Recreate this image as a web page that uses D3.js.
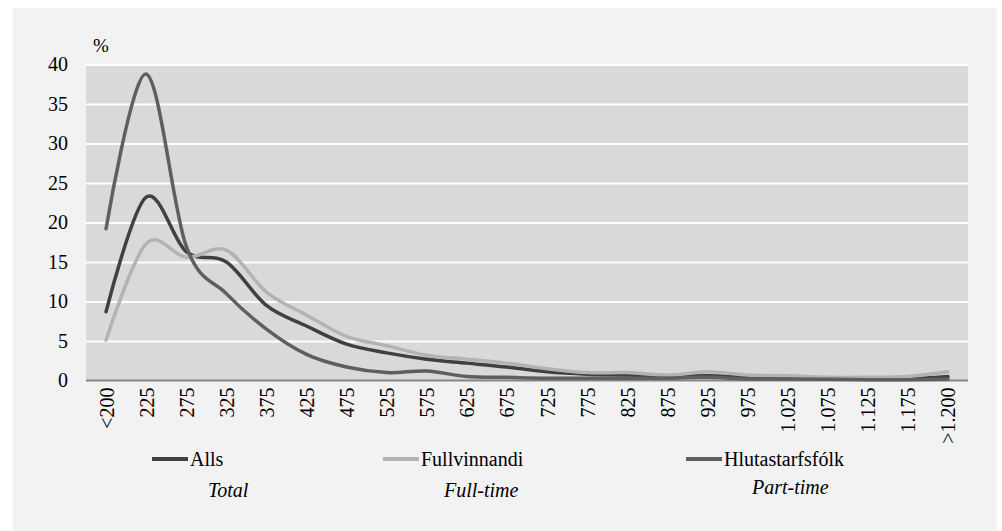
<!DOCTYPE html>
<html><head><meta charset="utf-8">
<script src="https://cdn.jsdelivr.net/npm/d3@7"></script>
<style>body{margin:0;background:#fff}svg{display:block}svg text{font-family:"Liberation Serif","Times New Roman",serif;fill:#000}</style>
</head><body><svg id="c" width="1002" height="531"></svg>
<script>
const categories = ["<200","225","275","325","375","425","475","525","575","625","675","725","775","825","875","925","975","1.025","1.075","1.125","1.175",">1.200"];
const alls  = [8.7, 23.2, 16.3, 15.0, 9.5, 6.9, 4.6, 3.5, 2.7, 2.2, 1.7, 1.1, 0.8, 0.7, 0.5, 0.6, 0.4, 0.3, 0.2, 0.2, 0.2, 0.5];
const full  = [5.1, 17.3, 15.6, 16.5, 11.2, 8.3, 5.6, 4.4, 3.2, 2.7, 2.2, 1.5, 1.0, 1.0, 0.7, 1.1, 0.7, 0.6, 0.4, 0.4, 0.5, 1.1];
const part  = [19.2, 38.8, 17.0, 11.0, 6.5, 3.3, 1.7, 1.0, 1.2, 0.5, 0.4, 0.3, 0.3, 0.3, 0.3, 0.4, 0.2, 0.2, 0.15, 0.1, 0.1, 0.15];
const yTicks = [0,5,10,15,20,25,30,35,40];
const seriesNames = ["Alls","Fullvinnandi","Hlutastarfsfólk"];
const seriesEn = ["Total","Full-time","Part-time"];
const colors = ["#404040","#b3b3b3","#5f5f5f"];

const svg = d3.select("#c");
svg.append("rect").attr("x",13).attr("y",8).attr("width",984).attr("height",523).attr("fill","#f2f2f2");

const x = d3.scalePoint().domain(categories).range([86,968]).padding(0.5);
const y = d3.scaleLinear().domain([0,40]).range([380.5,64.5]);

svg.append("rect").attr("x",86).attr("y",y(40)).attr("width",882).attr("height",y(0)-y(40)).attr("fill","#d9d9d9");

const yAxis = d3.axisLeft(y).tickValues(yTicks).tickSize(-882).tickPadding(18);
const gy = svg.append("g").attr("transform","translate(86,0)").call(yAxis).attr("font-family",null);
gy.select(".domain").remove();
gy.selectAll(".tick line").attr("stroke","#fff").attr("stroke-width",2).filter(d=>d===0).remove();
gy.selectAll(".tick text").attr("font-size",20).attr("fill","#000");

const xAxis = d3.axisBottom(x).tickSize(0).tickPadding(0);
const gx = svg.append("g").attr("transform",`translate(0,${y(0)})`).call(xAxis).attr("font-family",null);
gx.select(".domain").attr("d","M86,0H968").attr("stroke","#868686").attr("stroke-width",2);
gx.selectAll(".tick text").attr("font-size",20).attr("fill","#000")
  .attr("text-anchor","end").attr("transform","translate(0,7) rotate(-90)").attr("x",0).attr("y",0).attr("dy","0.35em");

svg.append("text").attr("x",93).attr("y",52).attr("font-size",19).text("%");

const line = d3.line().x((d,i)=>x(categories[i])).y(d=>y(d)).curve(d3.curveCardinal.tension(0));
[alls, full, part].forEach((s,k)=>{
  svg.append("path").attr("d",line(s)).attr("fill","none").attr("stroke",colors[k]).attr("stroke-width",3.5).attr("stroke-linecap","round");
});
const legX = [152, 383, 686];
const enX = [208, 444, 752];
seriesNames.forEach((n,k)=>{
  svg.append("line").attr("x1",legX[k]).attr("x2",legX[k]+36).attr("y1",459).attr("y2",459).attr("stroke",colors[k]).attr("stroke-width",4);
  svg.append("text").attr("x",legX[k]+38).attr("y",466).attr("font-size",20).text(n);
  svg.append("text").attr("x",enX[k]).attr("y",k===2?494:497).attr("font-size",20).attr("font-style","italic").text(seriesEn[k]);
});
</script></body></html>
